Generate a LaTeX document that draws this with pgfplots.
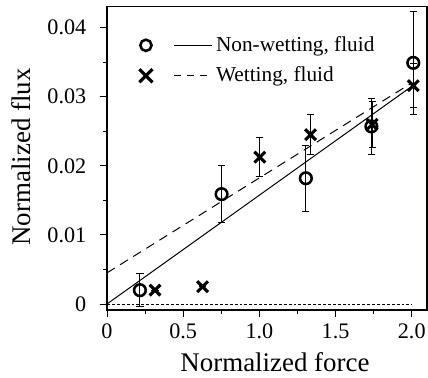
\documentclass[border=0pt]{standalone}
\usepackage{fontspec}
\setmainfont{Liberation Serif}
\usepackage{pgfplots}
\pgfplotsset{compat=1.18}
\begin{document}
\begin{tikzpicture}
\begin{axis}[
  name=ax,
  scale only axis,
  width=176pt, height=166.7pt,
  xmin=0, xmax=2.1, ymin=-0.00087, ymax=0.043,
  axis line style={line width=0.6pt},
  xtick={0,0.5,1,1.5,2}, xticklabels={0,0.5,1.0,1.5,2.0},
  ytick={0,0.01,0.02,0.03,0.04}, yticklabels={0,0.01,0.02,0.03,0.04},
  minor x tick num=1, minor y tick num=1,
  tick pos=left, tick align=outside,
  major tick length=3.85pt, minor tick length=2pt,
  tick style={line width=0.5pt, black},
  /pgf/number format/assume math mode=true,
  tick label style={font=\fontsize{12.2}{14}\selectfont},
  y tick label style={xshift=-4pt},
  xlabel={Normalized force}, ylabel={Normalized flux},
  label style={font=\fontsize{14.8}{17}\selectfont},
  xlabel style={at={(ticklabel cs:0.525)}},
  ylabel style={at={(axis description cs:-0.219,0.505)}, anchor=south},
  xlabel shift=1pt,
  legend style={draw=none, fill=none, at={(axis cs:0.2,0.0393)}, anchor=north west,
    font=\fontsize{11.7}{13}\selectfont, row sep=3pt, inner sep=0pt},
  legend cell align=left,
]
\addlegendimage{legend image code/.code={
  \draw[line width=1.4pt] (0pt,0pt) circle (3.1pt);
  \draw[line width=0.55pt] (15.4pt,0pt) -- (36.3pt,0pt);}}
\addlegendentry{Non-wetting, fluid}
\addlegendimage{legend image code/.code={
  \draw[line width=1.7pt] (-3.6pt,-3.6pt) -- (3.6pt,3.6pt) (-3.6pt,3.6pt) -- (3.6pt,-3.6pt);
  \draw[line width=0.55pt, dash pattern=on 3.9pt off 3.3pt] (15.4pt,0pt) -- (36.3pt,0pt);}}
\addlegendentry{Wetting, fluid}
% fits
\addplot[black, line width=0.55pt, forget plot] coordinates {(0,0) (2.0,0.0315)};
\addplot[black, line width=0.55pt, dash pattern=on 5pt off 3.5pt, forget plot] coordinates {(0,0.0045) (2.0,0.032)};
\addplot[black, line width=0.45pt, dash pattern=on 1.6pt off 1.1pt, forget plot] coordinates {(0,0) (2.0,0)};
% non-wetting
\addplot[black, only marks, mark=o, mark size=3.2pt, mark options={line width=1.4pt}, forget plot,
  error bars/.cd, y dir=both, y explicit,
  error bar style={line width=0.55pt},
  error mark options={line width=0.55pt, mark size=2pt, rotate=90}]
  table[x=x, y=y, y error=e] {
x y e
0.216 0.0020 0.0024
0.752 0.0159 0.0041
1.305 0.0182 0.0048
1.735 0.0257 0.0041
2.01 0.0349 0.0075
};
% wetting
\addplot[black, only marks, mark=x, mark size=4.2pt, mark options={line width=1.7pt}, forget plot,
  error bars/.cd, y dir=both, y explicit,
  error bar style={line width=0.55pt},
  error mark options={line width=0.55pt, mark size=2pt, rotate=90}]
  table[x=x, y=y, y error=e] {
x y e
0.315 0.0020 0
0.627 0.0025 0
1.003 0.02125 0.0028
1.336 0.0245 0.0029
1.74 0.0260 0.0033
2.01 0.0316 0.0032
};
\end{axis}
\pgfresetboundingbox
\path (ax.south west) ++(-58.85pt,-37.4pt) rectangle ++(235.4pt,207.9pt);
\end{tikzpicture}
\end{document}
